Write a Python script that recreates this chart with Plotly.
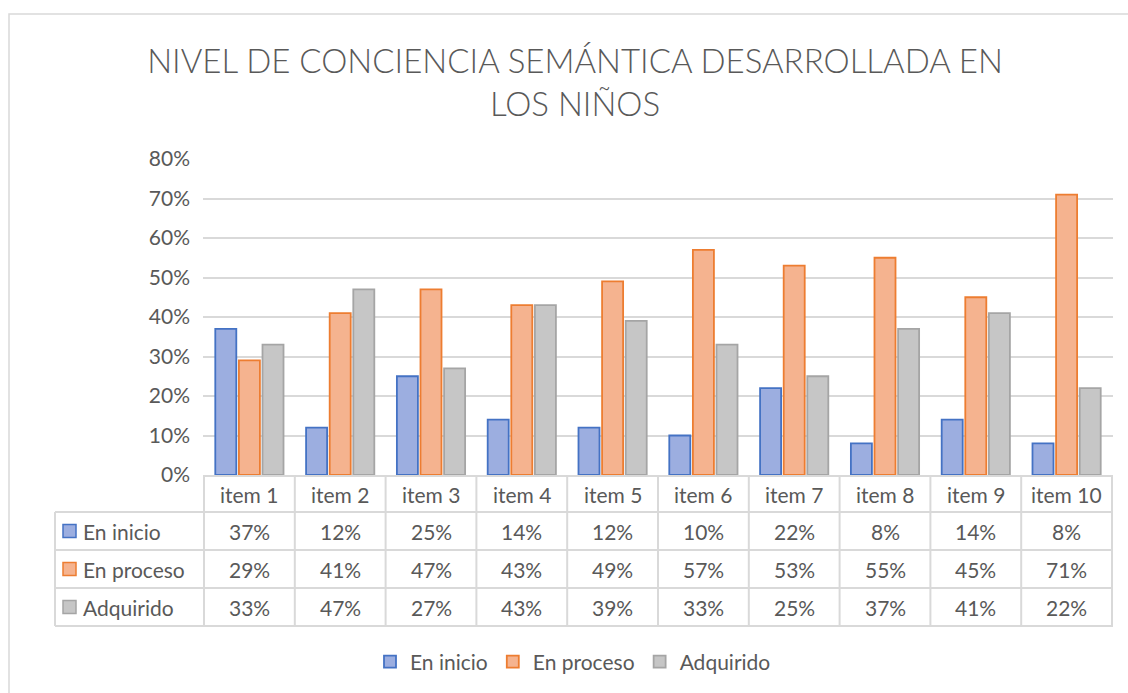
import plotly.graph_objects as go

categories = ["item 1", "item 2", "item 3", "item 4", "item 5",
              "item 6", "item 7", "item 8", "item 9", "item 10"]
series_names = ["En inicio", "En proceso", "Adquirido"]
en_inicio = [37, 12, 25, 14, 12, 10, 22, 8, 14, 8]
en_proceso = [29, 41, 47, 43, 49, 57, 53, 55, 45, 71]
adquirido = [33, 47, 27, 43, 39, 33, 25, 37, 41, 22]
y_ticks = [0, 10, 20, 30, 40, 50, 60, 70, 80]
y_tick_labels = [f"{v}%" for v in y_ticks]
title_text = "NIVEL DE CONCIENCIA SEMÁNTICA DESARROLLADA EN<br>LOS NIÑOS"

series_values = [en_inicio, en_proceso, adquirido]
fills = ["#9caee0", "#f5b38f", "#c6c6c6"]
borders = ["#4472c4", "#ed7d31", "#a5a5a5"]

W, H = 1128, 693
L, R, T, B = 203, 15, 159, 218
PW = W - L - R
PH = H - T - B
TXT = "#595959"
GRID = "#d9d9d9"
FONT = "Lato, 'Open Sans', sans-serif"
FS = 21


def px(p):
    return (p - L) / PW


def py(p):
    return (H - B - p) / PH


fig = go.Figure()
for name, vals, fc, bc in zip(series_names, series_values, fills, borders):
    fig.add_trace(go.Bar(
        x=categories, y=vals, name=name,
        marker=dict(color=fc, line=dict(color=bc, width=1.8)),
    ))

shapes = []
annotations = []

# outer chart border
shapes.append(dict(type="rect", xref="paper", yref="paper",
                   x0=px(9), x1=px(1140), y0=py(14), y1=py(710),
                   line=dict(color=GRID, width=1.5), fillcolor="rgba(0,0,0,0)"))

# table row lines
row_lines = [512, 550, 588, 626]
for yl in row_lines:
    shapes.append(dict(type="line", xref="paper", yref="paper",
                       x0=px(55), x1=1, y0=py(yl), y1=py(yl),
                       line=dict(color=GRID, width=2)))
# left border of label column
shapes.append(dict(type="line", xref="paper", yref="paper",
                   x0=px(55), x1=px(55), y0=py(512), y1=py(626),
                   line=dict(color=GRID, width=2)))
# vertical column lines
for i in range(len(categories) + 1):
    shapes.append(dict(type="line", xref="x", yref="paper",
                       x0=i - 0.5, x1=i - 0.5, y0=py(475), y1=py(626),
                       line=dict(color=GRID, width=2)))

# header texts
for c in categories:
    annotations.append(dict(x=c, xref="x", xanchor="center",
                            y=py(494), yref="paper", yanchor="middle",
                            text=c, showarrow=False,
                            font=dict(size=FS, color=TXT, family=FONT)))

row_centers = [531, 569, 607]
for name, vals, fc, bc, yc in zip(series_names, series_values, fills, borders, row_centers):
    shapes.append(dict(type="rect", xref="paper", yref="paper",
                       x0=px(63), x1=px(76), y0=py(yc - 6.5), y1=py(yc + 6.5),
                       fillcolor=fc, line=dict(color=bc, width=1.5)))
    annotations.append(dict(x=px(81), xref="paper", xanchor="left",
                            y=py(yc), yref="paper", yanchor="middle",
                            text=name, showarrow=False,
                            font=dict(size=FS, color=TXT, family=FONT)))
    for c, v in zip(categories, vals):
        annotations.append(dict(x=c, xref="x", xanchor="center",
                                y=py(yc), yref="paper", yanchor="middle",
                                text=f"{v}%", showarrow=False,
                                font=dict(size=FS, color=TXT, family=FONT)))

fig.update_layout(
    width=W, height=H,
    margin=dict(l=L, r=R, t=T, b=B, autoexpand=False),
    paper_bgcolor="white", plot_bgcolor="white",
    font=dict(family=FONT, color=TXT, size=FS),
    title=dict(text=title_text, x=575 / W, xanchor="center", xref="container",
               y=1 - 73 / H, yanchor="top", yref="container",
               font=dict(size=33, color=TXT, family=FONT, weight=300)),
    barmode="group", bargap=0.22, bargroupgap=0.11,
    showlegend=True,
    legend=dict(orientation="h", x=px(573), xanchor="center",
                y=py(662), yanchor="middle",
                font=dict(size=FS, color=TXT, family=FONT),
                itemclick=False),
    xaxis=dict(showticklabels=False, showgrid=False, showline=True,
               linecolor=GRID, linewidth=2, ticks="", zeroline=False),
    yaxis=dict(range=[0, 80], tickmode="array", tickvals=y_ticks,
               ticktext=y_tick_labels,
               showgrid=True, gridcolor=GRID, gridwidth=1.5,
               zeroline=False, showline=False, ticks="",
               ticklabelstandoff=12,
               tickfont=dict(size=FS, color=TXT, family=FONT)),
    shapes=shapes, annotations=annotations,
)

fig.write_html("out.html", config={"displayModeBar": False},
               post_script="document.body.style.margin='0px';document.body.style.overflow='hidden';")
